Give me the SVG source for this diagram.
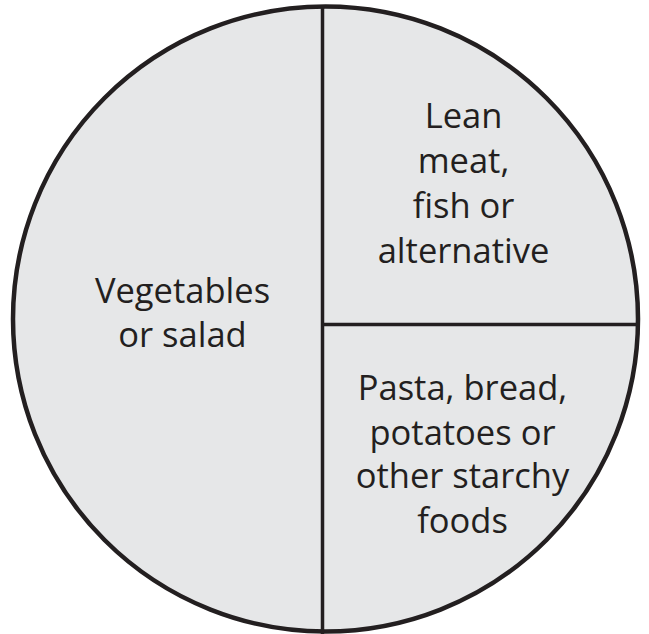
<svg xmlns="http://www.w3.org/2000/svg" width="649" height="634" viewBox="0 0 649 634">
<style>
.lbl{font-family:"Open Sans","Liberation Sans",sans-serif;font-size:34.5px;fill:#231f20;text-anchor:middle}
.ln{stroke:#231f20;stroke-width:3.5;fill:none}
</style>
<rect width="649" height="634" fill="#ffffff"/>
<g id="plate">
<circle cx="325.5" cy="319" r="312.5" fill="#e6e7e8" stroke="#231f20" stroke-width="4.5"/>
</g>
<g id="dividers">
<line class="ln" x1="322.5" y1="6" x2="322.5" y2="634"/>
<line class="ln" x1="322.5" y1="324.5" x2="638" y2="324.5"/>
</g>
<g id="vegetables">
<text class="lbl" x="182.5" y="303">Vegetables</text>
<text class="lbl" x="182.5" y="347">or salad</text>
</g>
<g id="protein">
<text class="lbl" x="463.5" y="128">Lean</text>
<text class="lbl" x="463.5" y="173">meat,</text>
<text class="lbl" x="463.5" y="218">fish or</text>
<text class="lbl" x="463.5" y="263">alternative</text>
</g>
<g id="starch">
<text class="lbl" x="462.5" y="400">Pasta, bread,</text>
<text class="lbl" x="462.5" y="445">potatoes or</text>
<text class="lbl" x="462.5" y="488">other starchy</text>
<text class="lbl" x="462.5" y="533">foods</text>
</g>
</svg>
